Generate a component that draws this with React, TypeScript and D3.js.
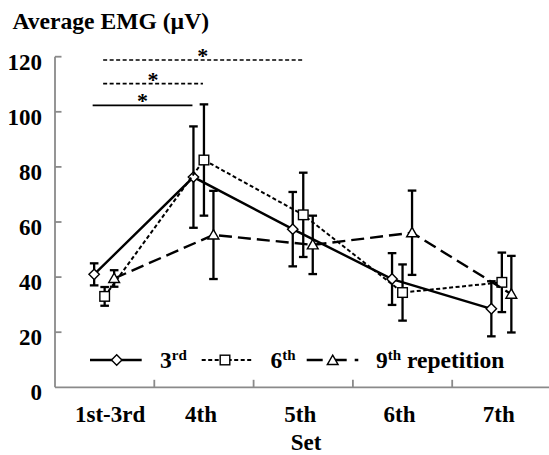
import React from 'react';
import * as d3 from 'd3';

const categories = ['1st-3rd', '4th', '5th', '6th', '7th'];
const yTicks = [0, 20, 40, 60, 80, 100, 120];

const mean3rd = [41, 76.3, 57.4, 39.3, 28.5];
const sd3rd = [4, 18.4, 13.5, 9.4, 10];
const mean6th = [33, 82.5, 62.6, 34.4, 38.1];
const sd6th = [3.4, 20.2, 15.3, 10.2, 10.8];
const mean9th = [39.5, 55.3, 51.7, 56.1, 33.8];
const sd9th = [3, 16, 10.6, 15.3, 13.9];

// significance brackets: series, from category, to category, level (µV)
const sigSeries = ['3rd', '6th', '6th'];
const sigFrom = ['1st-3rd', '1st-3rd', '1st-3rd'];
const sigTo = ['4th', '4th', '5th'];
const sigLevel = [102.3, 110.2, 118.8];

const W = 549;
const H = 455;
const FONT = 'Liberation Serif';
const AXIS = '#8a8a8a';

type Style = { offset: number; dash: string; width: number; marker: 'diamond' | 'square' | 'triangle' };
const styles: Record<string, Style> = {
  '3rd': { offset: -10.5, dash: 'none', width: 2.4, marker: 'diamond' },
  '6th': { offset: 0, dash: '4,2.5', width: 2, marker: 'square' },
  '9th': { offset: 9.5, dash: '13,6', width: 2.4, marker: 'triangle' },
};

const series = [
  { name: '3rd', mean: mean3rd, sd: sd3rd },
  { name: '6th', mean: mean6th, sd: sd6th },
  { name: '9th', mean: mean9th, sd: sd9th },
];

const Marker = ({ kind, x, y }: { kind: string; x: number; y: number }) => {
  if (kind === 'diamond') {
    const r = 5.2;
    return <path d={`M${x},${y - r}L${x + r},${y}L${x},${y + r}L${x - r},${y}Z`} fill="#fff" stroke="#000" strokeWidth={1.4} />;
  }
  if (kind === 'square') {
    const r = 4.8;
    return <rect x={x - r} y={y - r} width={2 * r} height={2 * r} fill="#fff" stroke="#000" strokeWidth={1.4} />;
  }
  const r = 5.4;
  return <path d={`M${x},${y - r}L${x + r},${y + r * 0.75}L${x - r},${y + r * 0.75}Z`} fill="#fff" stroke="#000" strokeWidth={1.4} />;
};

const txt = { fontFamily: FONT, fontWeight: 'bold' as const };

export default function App() {
  const x = d3.scaleBand<string>().domain(categories).range([55, 551.5]).padding(0);
  const y = d3.scaleLinear().domain([0, 120]).range([387.3, 56.7]);
  const cx = (c: string, name: string) => (x(c) as number) + x.bandwidth() / 2 + styles[name].offset;
  const line = (name: string) =>
    d3
      .line<number>()
      .x((_, i) => cx(categories[i], name))
      .y((d) => y(d));

  const legendY = 360;

  return (
    <svg width={W} height={H} style={{ position: 'absolute', left: 0, top: 0, background: '#fff' }}>
      {/* title */}
      <text x={12.5} y={28.5} fontSize={23.6} style={txt}>Average EMG (µV)</text>

      {/* y axis */}
      <line x1={55} x2={55} y1={y(120)} y2={y(0)} stroke={AXIS} strokeWidth={1.8} />
      {yTicks.map((t) => (
        <g key={t}>
          {t > 0 && <line x1={55} x2={61.5} y1={y(t)} y2={y(t)} stroke={AXIS} strokeWidth={1.8} />}
          <text x={42} y={y(t) + 13} textAnchor="end" fontSize={23} style={txt}>{t}</text>
        </g>
      ))}

      {/* x axis */}
      <line x1={55} x2={W} y1={y(0)} y2={y(0)} stroke={AXIS} strokeWidth={1.8} />
      {categories.slice(1).map((c) => (
        <line key={c} x1={x(c)} x2={x(c)} y1={y(0)} y2={y(0) - 7.5} stroke={AXIS} strokeWidth={1.8} />
      ))}
      {categories.map((c, i) => (
        <text key={c} x={(x(c) as number) + x.bandwidth() / 2 + (i === 0 ? 5.5 : -3)} y={421.5} textAnchor="middle" fontSize={23} style={txt}>{c}</text>
      ))}
      <text x={306} y={450} textAnchor="middle" fontSize={23} style={txt}>Set</text>

      {/* error bars */}
      {series.map((s) =>
        s.mean.map((m, i) => {
          const px = cx(categories[i], s.name);
          const hi = y(m + s.sd[i]);
          const lo = y(m - s.sd[i]);
          return (
            <g key={s.name + i} stroke="#000" strokeWidth={2.3}>
              <line x1={px} x2={px} y1={hi} y2={lo} />
              <line x1={px - 4.3} x2={px + 4.3} y1={hi} y2={hi} />
              <line x1={px - 4.3} x2={px + 4.3} y1={lo} y2={lo} />
            </g>
          );
        })
      )}

      {/* lines and markers */}
      {series.map((s) => (
        <g key={s.name}>
          <path d={line(s.name)(s.mean) as string} fill="none" stroke="#000" strokeWidth={styles[s.name].width} strokeDasharray={styles[s.name].dash} />
          {s.mean.map((m, i) => (
            <Marker key={i} kind={styles[s.name].marker} x={cx(categories[i], s.name)} y={y(m)} />
          ))}
        </g>
      ))}

      {/* significance */}
      {sigLevel.map((lv, i) => {
        const x1 = cx(sigFrom[i], sigSeries[i]) - 1.5;
        const x2 = cx(sigTo[i], sigSeries[i]) - 1;
        const st = styles[sigSeries[i]];
        return (
          <g key={i}>
            <line x1={x1} x2={x2} y1={y(lv)} y2={y(lv)} stroke="#000" strokeWidth={1.7} strokeDasharray={st.dash === 'none' ? 'none' : '4,2.5'} />
            <text x={(x1 + x2) / 2} y={y(lv) + 3} textAnchor="middle" fontSize={22} style={txt}>*</text>
          </g>
        );
      })}

      {/* legend */}
      <g>
        <line x1={90} x2={141.7} y1={legendY} y2={legendY} stroke="#000" strokeWidth={2.4} />
        <Marker kind="diamond" x={116.7} y={legendY} />
        <text x={160} y={368} fontSize={23.5} style={txt}>3<tspan dy={-8} fontSize={15}>rd</tspan></text>
        <line x1={201.7} x2={252.7} y1={legendY} y2={legendY} stroke="#000" strokeWidth={2} strokeDasharray="4,2.5" />
        <Marker kind="square" x={225} y={legendY} />
        <text x={270.5} y={368} fontSize={23.5} style={txt}>6<tspan dy={-8} fontSize={15}>th</tspan></text>
        <line x1={306.7} x2={358.3} y1={legendY} y2={legendY} stroke="#000" strokeWidth={2.4} strokeDasharray="16,8" />
        <Marker kind="triangle" x={332.7} y={legendY + 0.5} />
        <text x={376} y={368} fontSize={23.5} style={txt}>9<tspan dy={-8} fontSize={15}>th</tspan><tspan dy={8} fontSize={23.5}> repetition</tspan></text>
      </g>
    </svg>
  );
}
